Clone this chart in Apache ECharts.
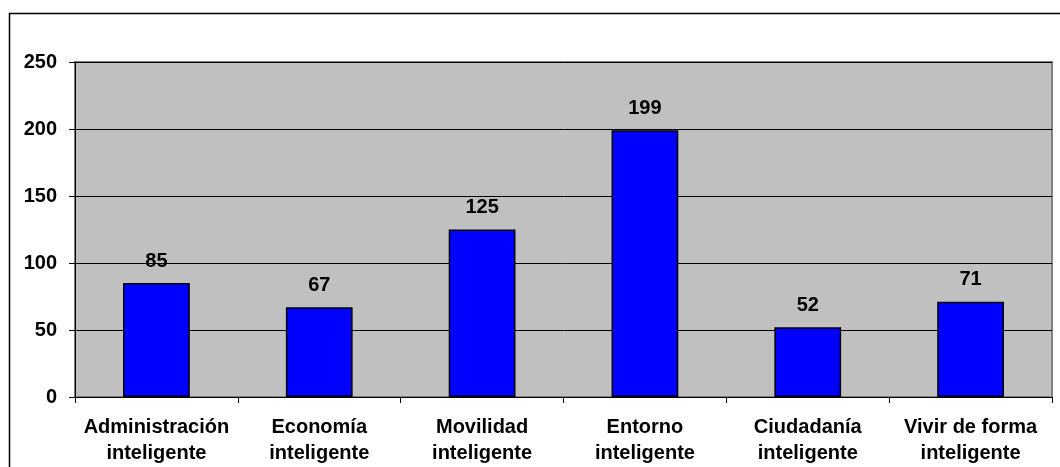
<!DOCTYPE html>
<html>
<head>
<meta charset="utf-8">
<script src="https://cdn.jsdelivr.net/npm/echarts@6/dist/echarts.min.js"></script>
<style>
html,body{margin:0;padding:0;background:#fff;}
#chart{width:1060px;height:467px;}
</style>
</head>
<body>
<div id="chart"></div>
<script>
const categories = [
  "Administración\ninteligente",
  "Economía\ninteligente",
  "Movilidad\ninteligente",
  "Entorno\ninteligente",
  "Ciudadanía\ninteligente",
  "Vivir de forma\ninteligente"
];
const values = [85, 67, 125, 199, 52, 71];
const yTicks = [0, 50, 100, 150, 200, 250];

const FONT = 'Arial, "Liberation Sans", sans-serif';
const chart = echarts.init(document.getElementById('chart'), null, {renderer: 'canvas'});
chart.setOption({
  animation: false,
  backgroundColor: '#ffffff',
  graphic: [{
    type: 'rect',
    left: 7, top: 11,
    shape: {width: 1080, height: 520},
    style: {fill: 'none', stroke: '#000', lineWidth: 1.5},
    silent: true
  }],
  grid: {
    left: 75, right: 8, top: 62, bottom: 70,
    show: true,
    backgroundColor: '#C0C0C0',
    borderColor: '#808080',
    borderWidth: 2
  },
  xAxis: {
    type: 'category',
    data: categories,
    axisLine: {lineStyle: {color: '#000', width: 1}},
    axisTick: {show: true, length: 6, lineStyle: {color: '#000'}},
    axisLabel: {
      interval: 0,
      margin: 17,
      color: '#000',
      fontFamily: FONT,
      fontWeight: 'bold',
      fontSize: 20,
      lineHeight: 26
    }
  },
  yAxis: {
    type: 'value',
    min: yTicks[0],
    max: yTicks[yTicks.length - 1],
    interval: 50,
    axisLine: {show: true, lineStyle: {color: '#000', width: 1}},
    axisTick: {show: true, length: 6, lineStyle: {color: '#000'}},
    splitLine: {show: true, lineStyle: {color: '#000', width: 1}},
    axisLabel: {
      margin: 18,
      color: '#000',
      fontFamily: FONT,
      fontWeight: 'bold',
      fontSize: 20
    }
  },
  series: [{
    type: 'bar',
    data: values,
    barWidth: '41%',
    itemStyle: {color: '#0000FF', borderColor: '#000', borderWidth: 1.5},
    label: {
      show: true,
      position: 'top',
      distance: 12,
      color: '#000',
      fontFamily: FONT,
      fontWeight: 'bold',
      fontSize: 20
    }
  }]
});
</script>
</body>
</html>
